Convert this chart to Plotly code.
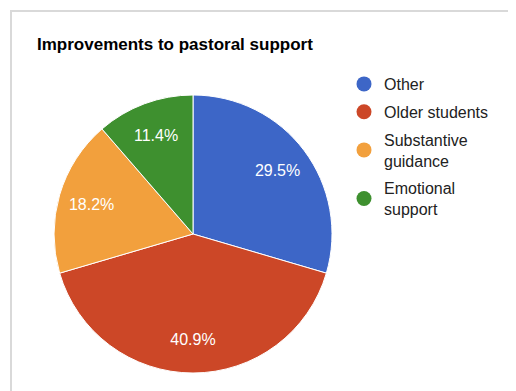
import plotly.graph_objects as go

categories = ["Other", "Older students", "Substantive guidance", "Emotional support"]
legend_labels = ["Other", "Older students", "Substantive<br>guidance", "Emotional<br>support"]
values = [13, 18, 8, 5]
colors = ["#3d66c7", "#cc4727", "#f2a03d", "#3e902f"]

W, H = 516, 391
# page body adds an 8px offset; positions below are in figure pixels
cx, cy, r = 185, 226, 139
dom = dict(x=[(cx - r) / W, (cx + r) / W], y=[1 - (cy + r) / H, 1 - (cy - r) / H])
FONT = "Liberation Sans, Arial"

fig = go.Figure()
fig.add_trace(go.Pie(
    labels=categories, values=values, sort=False, direction="clockwise", rotation=0,
    marker=dict(colors=colors, line=dict(color="white", width=1)),
    textinfo="none", domain=dom, showlegend=False, hoverinfo="label+percent",
))
# transparent ring carrying the percentage labels at Google-like radius
fig.add_trace(go.Pie(
    labels=categories, values=values, sort=False, direction="clockwise", rotation=0,
    hole=0.52,
    marker=dict(colors=["rgba(0,0,0,0)"] * len(values), line=dict(width=0)),
    texttemplate="%{percent:.1%}", textposition="inside",
    insidetextorientation="horizontal",
    textfont=dict(color="white", size=16, family=FONT),
    domain=dom, showlegend=False, hoverinfo="skip",
))
for name, c in zip(legend_labels, colors):
    fig.add_trace(go.Scatter(x=[None], y=[None], mode="markers", name=name,
                             legendgroup=name,
                             marker=dict(color=c, size=15, symbol="circle"),
                             showlegend=True, hoverinfo="skip"))

fig.update_layout(
    width=W, height=H, margin=dict(l=0, r=0, t=0, b=0),
    paper_bgcolor="white", plot_bgcolor="white",
    font=dict(family=FONT, color="#222222"),
    title=dict(text="<b>Improvements to pastoral support</b>", x=29 / W, xanchor="left",
               y=1 - 36 / H, yanchor="middle", font=dict(size=17, color="#000000")),
    xaxis=dict(visible=False), yaxis=dict(visible=False),
    legend=dict(x=336 / W, y=1 - 59 / H, xanchor="left", yanchor="top",
                font=dict(size=16, color="#222222"), itemsizing="trace",
                tracegroupgap=4, bgcolor="rgba(0,0,0,0)"),
    shapes=[dict(type="rect", xref="paper", yref="paper", x0=3 / W, x1=1.05,
                 y0=-0.05, y1=1 - 3 / H, line=dict(color="#d9d9d9", width=2),
                 fillcolor="rgba(0,0,0,0)", layer="below")],
)
fig.write_html("out.html")
